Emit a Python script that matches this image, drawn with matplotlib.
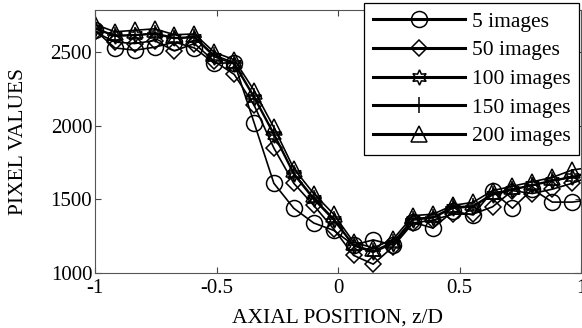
import numpy as np
import matplotlib
matplotlib.use('Agg')
import matplotlib.pyplot as plt

plt.rcParams['font.family'] = ['Liberation Serif', 'DejaVu Serif']

# axial positions, z/D
z = [-1.000, -0.918, -0.836, -0.755, -0.673, -0.591, -0.509, -0.427, -0.345,
     -0.264, -0.182, -0.100, -0.018, 0.064, 0.145, 0.227, 0.309, 0.391,
     0.473, 0.555, 0.636, 0.718, 0.800, 0.882, 0.964, 1.045]

img5 = [2650, 2530, 2515, 2535, 2570, 2530, 2425, 2430, 2020, 1610, 1440, 1340,
        1290, 1190, 1225, 1190, 1345, 1305, 1420, 1395, 1555, 1440, 1570, 1482,
        1482, 1500]
img50 = [2640, 2570, 2560, 2580, 2510, 2560, 2440, 2350, 2140, 1850, 1610, 1460,
         1300, 1120, 1060, 1180, 1340, 1360, 1400, 1400, 1450, 1560, 1540, 1570,
         1610, 1660]
img100 = [2660, 2610, 2615, 2625, 2595, 2600, 2470, 2420, 2190, 1940, 1670, 1500,
          1360, 1185, 1140, 1200, 1360, 1375, 1440, 1450, 1530, 1565, 1595, 1625,
          1650, 1680]
img150 = [2665, 2615, 2620, 2630, 2600, 2605, 2480, 2430, 2200, 1950, 1680, 1510,
          1370, 1190, 1150, 1210, 1370, 1380, 1450, 1455, 1540, 1570, 1600, 1630,
          1655, 1690]
img200 = [2690, 2640, 2650, 2660, 2620, 2625, 2500, 2450, 2240, 1990, 1710, 1540,
          1400, 1210, 1170, 1230, 1390, 1400, 1460, 1480, 1560, 1590, 1620, 1650,
          1700, 1720]

labels = ['5 images', '50 images', '100 images', '150 images', '200 images']
series = [img5, img50, img100, img150, img200]
markers = ['o', 'D', (6, 1, 0), '+', '^']
msizes = [11.5, 8.5, 11, 12, 11]

fig = plt.figure(figsize=(5.82, 3.28), dpi=100)
ax = fig.add_axes([95/582, 1 - 273/328, 486/582, 263/328])

for y, lab, m, ms in zip(series, labels, markers, msizes):
    ax.plot(z, y, color='k', lw=1.2, marker=m, ms=ms, mfc='none',
            mec='k', mew=1.1, label=lab)

ax.set_xlim(-1, 1)
ax.set_ylim(1000, 2788)
ax.set_xticks([-1, -0.5, 0, 0.5, 1])
ax.set_xticklabels(['-1', '-0.5', '0', '0.5', '1'])
ax.set_yticks([1000, 1500, 2000, 2500])
ax.tick_params(direction='in', top=True, right=True, labelsize=15, length=4,
               colors='#444444', labelcolor='k')
ax.tick_params(axis='x', pad=4)
ax.tick_params(axis='y', pad=2)
for s in ax.spines.values():
    s.set_color('#555555')
ax.set_xlabel('AXIAL POSITION, z/D', fontsize=15.5, labelpad=8)
ax.set_ylabel('PIXEL VALUES', fontsize=15.5, labelpad=16)

leg = ax.legend(loc='upper right', bbox_to_anchor=(579/582, 1 - 3/328),
                bbox_transform=fig.transFigure, borderaxespad=0, fontsize=15.5,
                handlelength=4.3, fancybox=False, edgecolor='k', framealpha=1,
                labelspacing=0.4, borderpad=0.4, handletextpad=0.3)
leg.get_frame().set_linewidth(0.9)
for lh in leg.get_lines():
    lh.set_linewidth(2.2)

fig.savefig('out.png', dpi=100)
